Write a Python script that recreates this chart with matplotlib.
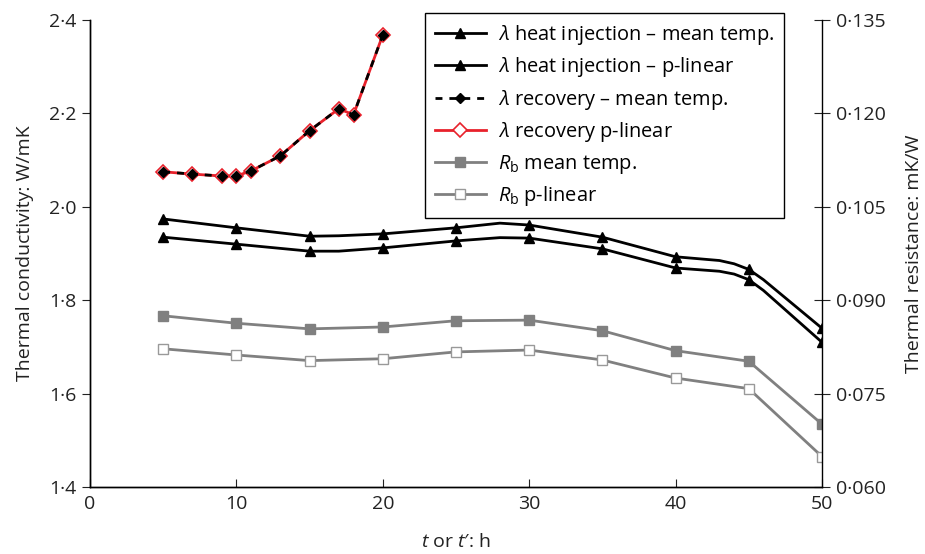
import numpy as np
import matplotlib.pyplot as plt
from matplotlib.ticker import FixedLocator, FixedFormatter

plt.rcParams['font.family'] = ['Open Sans', 'DejaVu Sans']
plt.rcParams['mathtext.fontset'] = 'custom'
plt.rcParams['mathtext.rm'] = 'Open Sans'
plt.rcParams['mathtext.it'] = 'Open Sans:italic'

# heat injection, extra hourly points where the curve bends; markers every 5 h
t_heat = [5, 10, 15, 17, 20, 25, 28, 30, 35, 40, 43, 44, 45, 46, 50]
lam_heat_mean = [1.974, 1.955, 1.937, 1.938, 1.942, 1.955, 1.965, 1.961, 1.935,
                 1.893, 1.885, 1.878, 1.866, 1.844, 1.740]
lam_heat_plin = [1.935, 1.920, 1.905, 1.905, 1.912, 1.927, 1.934, 1.933, 1.910,
                 1.869, 1.862, 1.856, 1.844, 1.821, 1.710]

# recovery
t_rec = [5, 7, 9, 10, 11, 13, 15, 17, 18, 20]
lam_rec_mean = [2.075, 2.070, 2.066, 2.066, 2.077, 2.109, 2.163, 2.210, 2.197, 2.368]
lam_rec_plin = [2.075, 2.070, 2.066, 2.066, 2.077, 2.109, 2.163, 2.210, 2.197, 2.368]

# borehole resistance
t_rb = [5, 10, 15, 20, 25, 30, 35, 40, 45, 50]
rb_mean = [0.0875, 0.0863, 0.0854, 0.0857, 0.0867, 0.0868, 0.0851, 0.0819, 0.0802, 0.0701]
rb_plin = [0.0822, 0.0812, 0.0803, 0.0806, 0.0817, 0.0820, 0.0804, 0.0775, 0.0758, 0.0649]

y_ticks = [1.4, 1.6, 1.8, 2.0, 2.2, 2.4]
y_labels = ['1·4', '1·6', '1·8', '2·0', '2·2', '2·4']
y2_ticks = [0.060, 0.075, 0.090, 0.105, 0.120, 0.135]
y2_labels = ['0·060', '0·075', '0·090', '0·105', '0·120', '0·135']
x_ticks = [0, 10, 20, 30, 40, 50]

fs = 14
fig = plt.figure(figsize=(9.25, 5.54), dpi=100)
ax = fig.add_axes([0.0973, 0.1209, 0.7913, 0.843])
ax2 = ax.twinx()

marks = [t % 5 == 0 for t in t_heat]
l1, = ax.plot(t_heat, lam_heat_mean, color='black', lw=2.0, marker='^', ms=7.5,
              markevery=marks, label=r'$\lambda$ heat injection – mean temp.', zorder=5)
l2, = ax.plot(t_heat, lam_heat_plin, color='black', lw=2.0, marker='^', ms=7.5,
              markevery=marks, label=r'$\lambda$ heat injection – p-linear', zorder=5)
l4, = ax.plot(t_rec, lam_rec_plin, color='#e8212b', lw=2.0, marker='D', ms=7.5,
              mfc='white', mec='#e8212b', mew=1.2, label=r'$\lambda$ recovery p-linear', zorder=5)
l3, = ax.plot(t_rec, lam_rec_mean, color='black', lw=2.0, ls=(0, (2.5, 2.5)), marker='D',
              ms=5, label=r'$\lambda$ recovery – mean temp.', zorder=6)

l5, = ax2.plot(t_rb, rb_mean, color='#808080', lw=2.0, marker='s', ms=6.5,
               label=r'$R_\mathrm{b}$ mean temp.')
l6, = ax2.plot(t_rb, rb_plin, color='#808080', lw=2.0, marker='s', ms=6.5, mfc='white',
               mec='#999999', mew=1.0, label=r'$R_\mathrm{b}$ p-linear')

ax.set_xlim(0, 50)
ax.set_ylim(1.4, 2.4)
ax2.set_ylim(0.060, 0.135)
ax.xaxis.set_major_locator(FixedLocator(x_ticks))
ax.yaxis.set_major_locator(FixedLocator(y_ticks))
ax.yaxis.set_major_formatter(FixedFormatter(y_labels))
ax2.yaxis.set_major_locator(FixedLocator(y2_ticks))
ax2.yaxis.set_major_formatter(FixedFormatter(y2_labels))

for a in (ax, ax2):
    a.spines['top'].set_visible(False)
    for s in a.spines.values():
        s.set_linewidth(1.0)
ax.spines['right'].set_visible(False)

ax.tick_params(axis='x', direction='in', length=6, labelsize=fs, colors='#222222', pad=6)
ax.tick_params(axis='y', direction='out', length=6, labelsize=fs, colors='#222222')
ax2.tick_params(axis='y', direction='inout', length=12, labelsize=fs, colors='#222222', pad=4)

ax.set_xlabel(r"$t$ or $t$′: h", fontsize=fs, color='#222222', labelpad=14)
ax.set_ylabel('Thermal conductivity: W/mK', fontsize=fs, color='#222222', labelpad=11)
ax2.set_ylabel('Thermal resistance: mK/W', fontsize=fs, color='#222222', labelpad=14)

leg = fig.legend(handles=[l1, l2, l3, l4, l5, l6], loc='upper left',
                 bbox_to_anchor=(0.459, 0.977), borderaxespad=0, fontsize=14.4,
                 frameon=True, fancybox=False, framealpha=1, edgecolor='black',
                 handlelength=2.55, labelspacing=0.425, borderpad=0.5, handletextpad=0.6)
leg.get_frame().set_linewidth(1.0)

fig.savefig('out.png', dpi=100)
